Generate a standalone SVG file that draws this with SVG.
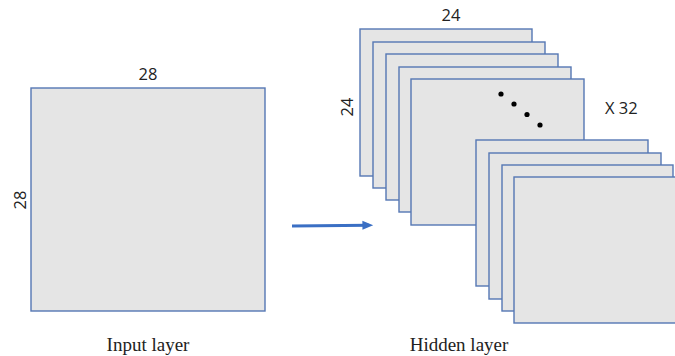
<svg xmlns="http://www.w3.org/2000/svg" width="675" height="356" viewBox="0 0 675 356">
<style>
.map{fill:#e5e5e5;stroke:#5577b4;stroke-width:1.4}
.num{font-family:"Open Sans","Liberation Sans",sans-serif;font-size:16.5px;fill:#222}
.cap{font-family:"Liberation Serif",serif;font-size:19px;fill:#222}
.dot{fill:#000}
</style>
<defs>
<marker id="ah" markerWidth="4" markerHeight="4" refX="2.2" refY="2" orient="auto" markerUnits="strokeWidth">
<path d="M0,0.5 L3.6,2 L0,3.5 z" fill="#3a6fc4"/>
</marker>
</defs>
<g id="input">
<rect class="map" x="31" y="88" width="234" height="223"/>
<text class="num" x="148" y="80" text-anchor="middle">28</text>
<text class="num" transform="translate(26,200) rotate(-90)" text-anchor="middle">28</text>
<text class="cap" x="148" y="351" text-anchor="middle">Input layer</text>
</g>
<g id="connectors">
<line x1="292" y1="226" x2="369" y2="225.3" stroke="#3a6fc4" stroke-width="3" marker-end="url(#ah)"/>
</g>
<g id="hidden">
<rect class="map" x="360" y="29" width="172" height="147"/>
<rect class="map" x="373" y="42" width="172" height="146"/>
<rect class="map" x="386" y="54" width="172" height="146"/>
<rect class="map" x="399" y="67" width="172" height="145"/>
<rect class="map" x="411" y="79" width="173" height="146"/>
<rect class="map" x="476" y="140" width="172" height="146"/>
<rect class="map" x="489" y="153" width="172" height="146"/>
<rect class="map" x="502" y="165" width="171" height="146"/>
<rect class="map" x="514" y="177" width="175" height="146"/>
<circle class="dot" cx="501" cy="94" r="2.6"/>
<circle class="dot" cx="514" cy="104" r="2.6"/>
<circle class="dot" cx="527" cy="114.5" r="2.6"/>
<circle class="dot" cx="540" cy="125" r="2.6"/>
<text class="num" x="451" y="21" text-anchor="middle">24</text>
<text class="num" transform="translate(353,107) rotate(-90)" text-anchor="middle">24</text>
<text class="num" x="605" y="114">X 32</text>
<text class="cap" x="459" y="351" text-anchor="middle">Hidden layer</text>
</g>
</svg>
